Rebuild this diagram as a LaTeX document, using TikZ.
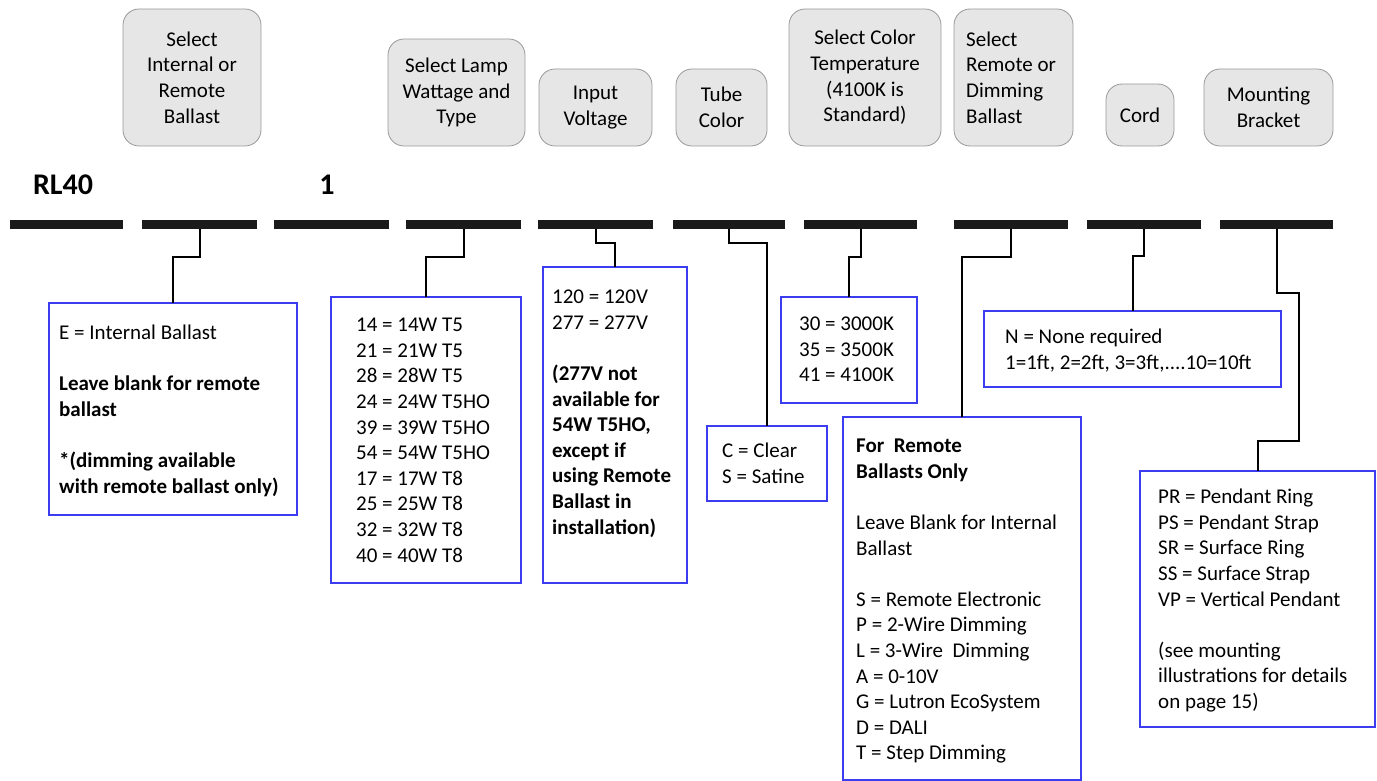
\documentclass[tikz,border=0pt]{standalone}
\usepackage{fontspec}
\setmainfont{Carlito}
\definecolor{barc}{HTML}{1A1A1A}
\definecolor{hdrfill}{HTML}{E6E6E6}
\definecolor{hdrline}{HTML}{999999}
\definecolor{boxblue}{HTML}{3C3CF0}
\begin{document}
\begin{tikzpicture}[x=1pt,y=-1pt,
  bar/.style={fill=barc, draw=none, minimum height=9.5pt, inner sep=0pt, outer sep=0pt, anchor=north west},
  hdr/.style={fill=hdrfill, draw=hdrline, line width=0.8pt, rounded corners=16pt, inner sep=0pt, outer sep=0pt, anchor=north west, font=\fontsize{21}{25.6}\selectfont, align=center},
  optbox/.style={draw=boxblue, line width=1.2pt, inner sep=0pt, outer sep=0pt, anchor=north west},
  txt/.style={font=\fontsize{21}{25.6}\selectfont, align=left, inner sep=0pt, anchor=north west},
  code/.style={font=\fontsize{30}{36}\selectfont\bfseries, inner sep=0pt},
  conn/.style={line width=2pt, line join=miter}]
\useasboundingbox (0,0) rectangle (1377,781);

% header boxes
\node[hdr, minimum width=138pt, minimum height=137pt] (h1) at (123,9) {Select\\Internal or\\Remote\\Ballast};
\node[hdr, minimum width=137pt, minimum height=107pt] (h2) at (388,39) {Select Lamp\\Wattage and\\Type};
\node[hdr, minimum width=113pt, minimum height=77pt] (h3) at (539,69) {Input\\Voltage};
\node[hdr, minimum width=91pt, minimum height=77pt] (h4) at (676,69) {Tube\\Color};
\node[hdr, minimum width=152pt, minimum height=137pt] (h5) at (789,9) {Select Color\\Temperature\\(4100K is\\Standard)};
\node[hdr, minimum width=119pt, minimum height=137pt] (h6) at (954,9) {};
\node[txt, anchor=west] (h6t) at (966,77.5) {Select\\Remote or\\Dimming\\Ballast};
\node[hdr, minimum width=68pt, minimum height=62pt] (h7) at (1106,84) {Cord};
\node[hdr, minimum width=129pt, minimum height=77pt] (h8) at (1204,69) {Mounting\\Bracket};

% code text
\node[code] (rl) at (63,185) {RL40};
\node[code] (one) at (327,185) {1};

% bars
\node[bar, minimum width=113pt] (b1) at (10,219.5) {};
\node[bar, minimum width=115pt] (b2) at (142,219.5) {};
\node[bar, minimum width=115pt] (b3) at (274,219.5) {};
\node[bar, minimum width=115pt] (b4) at (406,219.5) {};
\node[bar, minimum width=115pt] (b5) at (538,219.5) {};
\node[bar, minimum width=112pt] (b6) at (673,219.5) {};
\node[bar, minimum width=113pt] (b7) at (804,219.5) {};
\node[bar, minimum width=114pt] (b8) at (954,219.5) {};
\node[bar, minimum width=114pt] (b9) at (1087,219.5) {};
\node[bar, minimum width=113pt] (b10) at (1220,219.5) {};

% option boxes
\node[optbox, minimum width=248pt, minimum height=212pt] (o1) at (49,303) {};
\node[optbox, minimum width=190pt, minimum height=286pt] (o2) at (331,297) {};
\node[optbox, minimum width=144pt, minimum height=316pt] (o3) at (543,267) {};
\node[optbox, minimum width=120pt, minimum height=75pt] (o4) at (707,426) {};
\node[optbox, minimum width=136pt, minimum height=106pt] (o5) at (781,297) {};
\node[optbox, minimum width=238pt, minimum height=363pt] (o6) at (843,417) {};
\node[optbox, minimum width=297pt, minimum height=76pt] (o7) at (984,311) {};
\node[optbox, minimum width=235pt, minimum height=256pt] (o8) at (1140,471) {};

% option texts
\node[txt] (t1) at (59,321.6) {\strut E = Internal Ballast\\[25.6pt]\textbf{Leave blank for remote}\\\textbf{ballast}\\[25.6pt]\textbf{*(dimming available}\\\textbf{with remote ballast only)}};
\node[txt] (t2) at (356,313.6) {\strut 14 = 14W T5\\21 = 21W T5\\28 = 28W T5\\24 = 24W T5HO\\39 = 39W T5HO\\54 = 54W T5HO\\17 = 17W T8\\25 = 25W T8\\32 = 32W T8\\40 = 40W T8};
\node[txt] (t3) at (552,285.6) {\strut 120 = 120V\\277 = 277V\\[25.6pt]\textbf{(277V not}\\\textbf{available for}\\\textbf{54W T5HO,}\\\textbf{except if}\\\textbf{using Remote}\\\textbf{Ballast in}\\\textbf{installation)}};
\node[txt] (t4) at (722,439.6) {\strut C = Clear\\S = Satine};
\node[txt] (t5) at (799,312.6) {\strut 30 = 3000K\\35 = 3500K\\41 = 4100K};
\node[txt] (t6) at (856,434.6) {\strut\textbf{For\ \ Remote}\\\textbf{Ballasts Only}\\[25.6pt]Leave Blank for Internal\\Ballast\\[25.6pt]S = Remote Electronic\\P = 2-Wire Dimming\\L = 3-Wire\ \ Dimming\\A = 0-10V\\G = Lutron EcoSystem\\D = DALI\\T = Step Dimming};
\node[txt] (t7) at (1005,325.6) {\strut N = None required\\1=1ft, 2=2ft, 3=3ft,....10=10ft};
\node[txt] (t8) at (1158,485.6) {\strut PR = Pendant Ring\\PS = Pendant Strap\\SR = Surface Ring\\SS = Surface Strap\\VP = Vertical Pendant\\[25.6pt](see mounting\\illustrations for details\\on page 15)};

% connector kinks
\coordinate (k2) at (0,257);
\coordinate (k4) at (0,257);
\coordinate (k5) at (0,243);
\coordinate (k6) at (0,243);
\coordinate (k7) at (0,257);
\coordinate (k8) at (0,257);
\coordinate (k9) at (0,256);
\coordinate (m1) at (0,293);
\coordinate (m2) at (1299,293);
\coordinate (m3) at (1299,441);

\draw[conn] (b2.south) -- (b2.south |- k2) -| (o1.north);
\draw[conn] (b4.south) -- (b4.south |- k4) -| (o2.north);
\draw[conn] (b5.south) -- (b5.south |- k5) -| (o3.north);
\draw[conn] (b6.south) -- (b6.south |- k6) -| (o4.north);
\draw[conn] (b7.south) -- (b7.south |- k7) -| (o5.north);
\draw[conn] (b8.south) -- (b8.south |- k8) -| (o6.north);
\draw[conn] (b9.south) -- (b9.south |- k9) -| (o7.north);
\draw[conn] (b10.south) -- (b10.south |- m1) -- (m2) -- (m3) -| (o8.north);
\end{tikzpicture}
\end{document}
